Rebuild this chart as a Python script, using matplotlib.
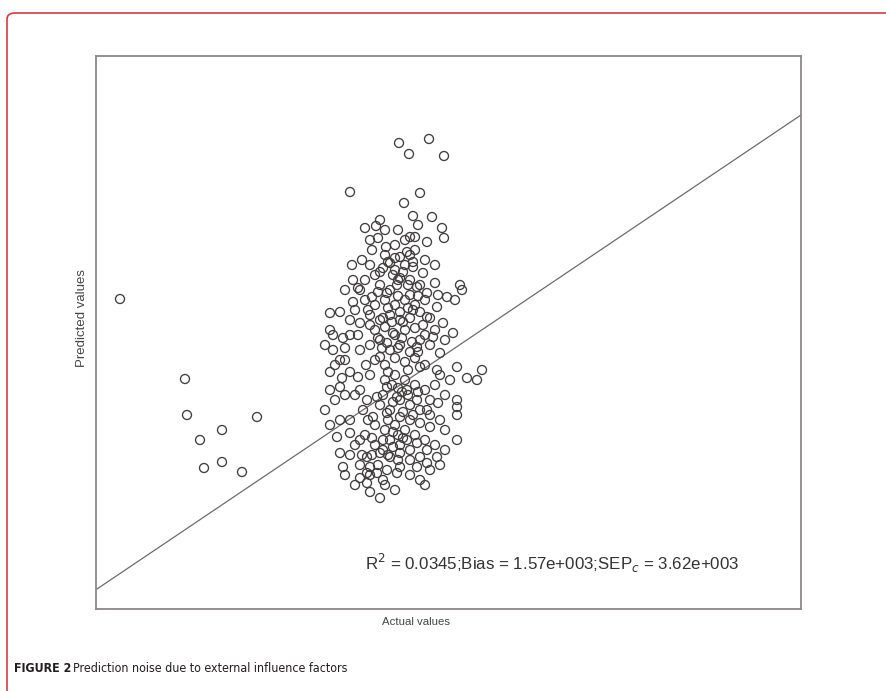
import matplotlib
matplotlib.use("Agg")
import matplotlib.pyplot as plt
from matplotlib.patches import FancyBboxPatch
from matplotlib import font_manager as fm

# ---- data (arbitrary units, no ticks shown in the original) ----
actual = [
    230, 880, 900, 1030, 1250, 1600, 1070, 1250, 1450,
    3020, 3120, 3320, 3470, 2530, 3230, 3070, 3160, 3350, 3450, 3470,
    2830, 2790, 2880, 2730, 2890, 3130, 3180, 3300, 3100, 3030, 3130,
    2730, 2830, 2930, 3160, 3260, 2560, 2610, 3030, 3130, 3380, 3630,
    3650, 3500, 3580, 2560, 2750, 2900, 3000, 3200, 3300, 2330, 2430,
    2530, 2630, 2360, 2460, 2360, 2430, 2330, 2430, 2530, 2610, 2730,
    2830, 2900, 2960, 3030, 3160, 3300, 3400, 3460, 3560, 3360, 3200,
    3430, 3230, 3400, 3600, 3530, 3700, 3800, 3850, 3600, 3600, 3600,
    3410, 3300, 3200, 3100, 3000, 2900, 2800, 2700, 2630, 2660, 2760,
    2900, 3030, 3130, 3230, 3330, 3600, 2400, 2530, 2630, 2430, 2460,
    2700, 2730, 2830, 2930, 3030, 3130, 3230, 3300, 3400, 2960, 2860,
    3100, 3200, 2900, 3000, 2800, 2700, 2730, 2830, 3030, 2860, 3200,
    3300, 2700,
    2680, 2780, 2880, 2980, 3080, 3180, 3280, 2730, 2830, 2930, 3030,
    3130, 3230, 3330, 2780, 2880, 2980, 3080, 3180, 3280, 2730, 2830,
    2930, 3030, 3130, 3230, 3330, 2780, 2880, 2980, 3080, 3180, 3280,
    2730, 2930, 2830, 3130, 3230, 2680, 2780, 2980, 3080, 2880, 2980,
    3080, 3180, 3280, 3380, 2750, 2650, 2550, 2480, 2580, 2530, 2630,
    2480, 2880, 2980, 3080, 3180, 3280, 3380, 2830, 2930, 3030, 3130,
    3230, 3330, 3430, 3480, 2780, 2880, 2980, 3080, 3180, 3280, 3380,
    3480, 2930, 3030, 3130, 2780, 2680, 2580, 2530, 2630, 2730, 2480,
    2580, 2880, 2980, 3130, 3230, 3330, 3430, 3280, 2530, 2430, 2330,
    2280, 2380, 2480, 2330, 2450, 2380, 2480, 2330, 2280,
    2910, 3010, 3110, 2950, 3050, 3150, 2850, 2950, 3050, 2910, 3010,
    2810, 2910, 2750, 2650, 2980, 2810, 3010, 3210, 2680,
    2860, 2960, 3060, 3160, 2810, 2910, 3010, 3110, 3210, 2860, 3060,
    3260, 2810, 3010, 3210, 2910, 3110, 3010, 3110, 3210, 2960, 3060,
    3160, 2860, 2960, 3060, 2860, 3010, 2630, 2710, 2610, 2690, 2580,
    2710, 2750, 2630, 3410, 3380, 3480, 3430, 3330, 3480,
]
predicted = [
    3100, 2300, 1940, 1690, 1790, 1920, 1410, 1470, 1370,
    4660, 4550, 4700, 4530, 4170, 4160, 4060, 3930, 3920, 3810, 3710,
    3890, 3830, 3790, 3690, 3620, 3720, 3720, 3670, 3570, 3520, 3540,
    3440, 3370, 3460, 3420, 3360, 3290, 3210, 3310, 3290, 3260, 3240,
    3190, 3120, 3090, 3070, 3120, 3160, 3240, 3220, 3160, 2960, 2970,
    2890, 2860, 2740, 2710, 2590, 2490, 2370, 2220, 2370, 2320, 2340,
    2520, 2660, 2760, 2890, 2990, 2920, 3020, 2860, 2760, 2720, 2620,
    2560, 2420, 2390, 2420, 2290, 2310, 2290, 2390, 2090, 2020, 1940,
    2060, 1990, 2090, 2190, 2120, 2220, 2120, 2090, 2190, 1990, 1920,
    1960, 1920, 1890, 1860, 1820, 1690, 1720, 1760, 1690, 1560, 1420,
    1520, 1420, 1560, 1520, 1560, 1490, 1520, 1590, 1520, 1620, 1690,
    1690, 1660, 1390, 1360, 1360, 1260, 1170, 1110, 1420, 1290, 1420,
    1460, 1360,
    3090, 3040, 3090, 3040, 3090, 3040, 3090, 2940, 2890, 2940, 2970,
    2910, 2970, 2910, 2790, 2820, 2740, 2790, 2810, 2740, 2640, 2690,
    2590, 2640, 2570, 2690, 2640, 2490, 2440, 2510, 2470, 2510, 2440,
    2840, 3190, 3240, 3140, 3240, 3290, 3340, 3390, 3440, 3540, 3640,
    3690, 3590, 3490, 3440, 3590, 3490, 3440, 3190, 2990, 2740, 2590,
    2490, 2290, 2340, 2290, 2240, 2190, 2240, 2040, 1990, 2090, 2040,
    1990, 1940, 1890, 2140, 1840, 1790, 1840, 1790, 1740, 1690, 1640,
    1590, 1690, 1640, 1590, 1640, 1740, 1640, 1540, 1440, 1340, 1340,
    1240, 1240, 1190, 1340, 1290, 1390, 1440, 1240, 1890, 1890, 1840,
    1990, 2090, 2140, 2190, 2310, 2440, 2610, 2790, 2640,
    3470, 3290, 3240, 2870, 2710, 2670, 2610, 2240, 2170, 1890, 1740,
    1440, 1540, 1710, 1540, 3510, 3710, 3790, 3840, 3810,
    3410, 3340, 3370, 3470, 3170, 3010, 3130, 3010, 3130, 2910, 2870,
    2840, 2710, 2610, 2570, 2370, 2390, 2210, 2140, 2170, 2070, 1970,
    1940, 2140, 1770, 1710, 1590, 1490, 3190, 2990, 2740, 2440, 2140,
    1890, 1540, 1310, 3140, 2790, 2690, 2340, 2090, 1790,
]
# reference line (endpoints in data units)
line_actual = [0, 7040]
line_predicted = [200, 4940]

annotation = "R$^2$ = 0.0345;Bias = 1.57e+003;SEP$_c$ = 3.62e+003"
x_label = "Actual values"
y_label = "Predicted values"
caption_bold = "FIGURE 2"
caption_text = "Prediction noise due to external influence factors"

# ---- pick a condensed font for the caption if one is installed ----
cap_font = None
for fam_name, stretch in [("Liberation Sans Narrow", "normal"),
                          ("DejaVu Sans", "condensed")]:
    try:
        path = fm.findfont(fm.FontProperties(family=fam_name, stretch=stretch),
                           fallback_to_default=False)
        if "Narrow" in path or "Condensed" in path:
            cap_font = (fam_name, stretch)
            break
    except Exception:
        pass

# ---- figure ----
W, H = 886, 691
fig = plt.figure(figsize=(W / 100, H / 100), dpi=100)
fig.patch.set_facecolor("white")

border = FancyBboxPatch((7 / W, -0.05), (W + 40 - 7) / W, (H - 13) / H + 0.05,
                        boxstyle="round,pad=0,rounding_size=0.009",
                        transform=fig.transFigure, facecolor="none",
                        edgecolor="#dc3a42", linewidth=1.2, zorder=0)
fig.patches.append(border)

ax = fig.add_axes([96 / W, (H - 609) / H, (801 - 96) / W, (609 - 56) / H])
ax.set_xlim(-10, 7040)
ax.set_ylim(0, 5530)
ax.set_xticks([])
ax.set_yticks([])
for s in ax.spines.values():
    s.set_color("#8c8888")
    s.set_linewidth(1.3)

ax.plot(line_actual, line_predicted, color="#6e6a6a", linewidth=0.9, zorder=1)
ax.scatter(actual, predicted, s=42, facecolors="none", edgecolors="#403d3d",
           linewidths=0.95, zorder=2)

fam = ["Liberation Sans", "DejaVu Sans"]
fig.text(365 / W, 1 - 563 / H, annotation, fontsize=12.2, family=fam,
         color="#333333", va="center", ha="left")
fig.text(416 / W, 1 - 622 / H, x_label, fontsize=8.2, family=fam,
         color="#444444", va="center", ha="center")
fig.text(82 / W, 1 - 318 / H, y_label, fontsize=9.5, rotation=90, family=fam,
         color="#444444", va="center", ha="center")

# caption: bold label followed by regular text
if cap_font is not None:
    cfam = [cap_font[0], "Liberation Sans", "DejaVu Sans"]
    cstretch = cap_font[1]
    csize = 8.9
else:
    cfam = fam
    cstretch = "normal"
    csize = 8.3
t1 = fig.text(14 / W, 1 - 668 / H, caption_bold, fontsize=csize,
              fontweight="bold", family=cfam, fontstretch=cstretch,
              color="#231f20", va="center", ha="left")
fig.canvas.draw()
bb = t1.get_window_extent(renderer=fig.canvas.get_renderer())
t2 = fig.text((bb.x1 + 2) / W, 1 - 668 / H, caption_text, fontsize=csize,
              family=cfam, fontstretch=cstretch, color="#231f20",
              va="center", ha="left")

fig.savefig("out.png", dpi=100, facecolor="white")
